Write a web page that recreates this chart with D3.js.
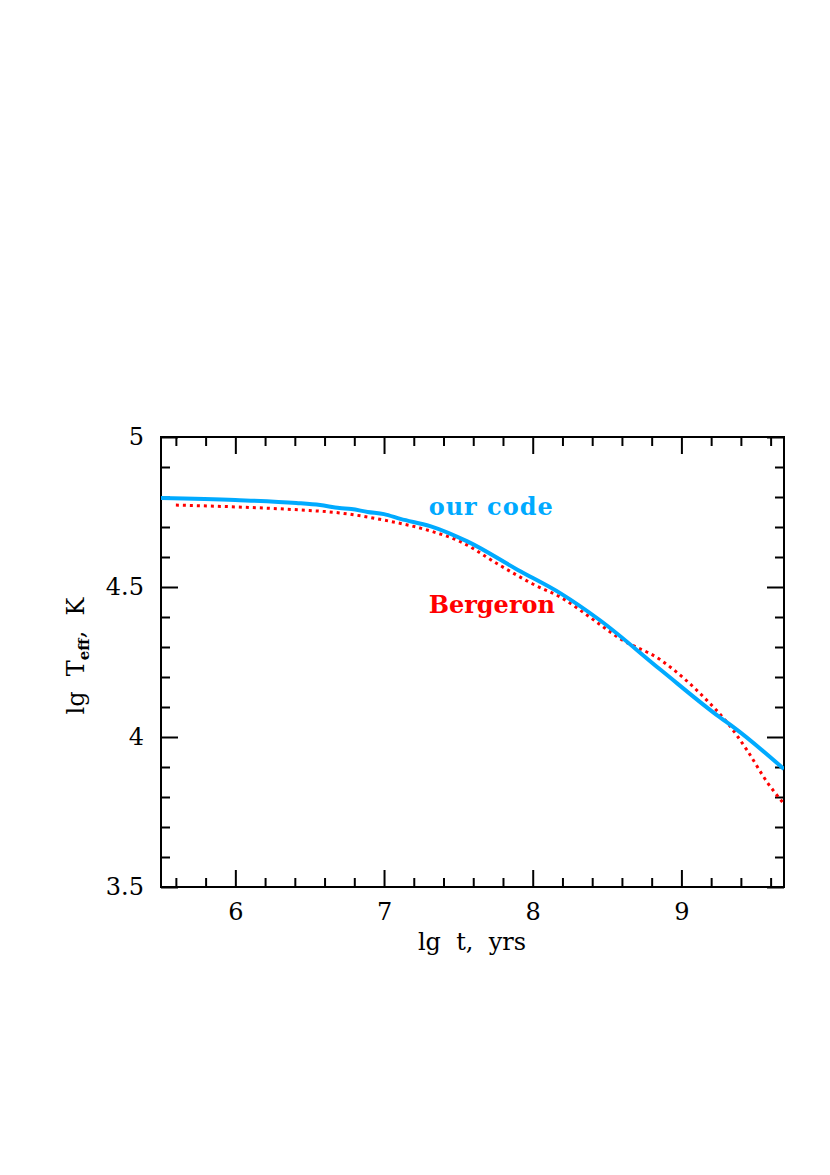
<!DOCTYPE html>
<html>
<head>
<meta charset="utf-8">
<script src="https://cdn.jsdelivr.net/npm/d3@7"></script>
<style>
  body { margin: 0; background: #fff; }
  text { font-family: "DejaVu Serif", "Liberation Serif", serif; }
</style>
</head>
<body>
<div id="chart"></div>
<script>
// lg t (yrs) vs lg Teff (K)
var ourCodeX = [5.5, 6.0, 6.41, 6.57, 6.7, 6.78, 6.89, 7.0, 7.11, 7.31, 7.56, 7.9, 8.19, 8.45, 8.86, 9.26, 9.35, 9.69];
var ourCodeY = [4.797, 4.79, 4.78, 4.773, 4.763, 4.76, 4.75, 4.743, 4.727, 4.703, 4.652, 4.557, 4.478, 4.39, 4.224, 4.065, 4.033, 3.893];
var bergeronX = [5.6, 6.0, 6.43, 6.7, 7.0, 7.31, 7.51, 7.78, 8.0, 8.19, 8.43, 8.57, 8.86, 9.17, 9.31, 9.44, 9.58, 9.68];
var bergeronY = [4.773, 4.767, 4.757, 4.747, 4.723, 4.687, 4.652, 4.572, 4.51, 4.465, 4.383, 4.333, 4.257, 4.123, 4.047, 3.957, 3.847, 3.783];
var xMajor = [6, 7, 8, 9];
var yMajor = [3.5, 4, 4.5, 5];

var width = 830, height = 1175;
var margin = {top: 437, right: 46, bottom: 288, left: 161};
var w = width - margin.left - margin.right;
var h = height - margin.top - margin.bottom;

var svg = d3.select("#chart").append("svg")
    .attr("width", width)
    .attr("height", height);

var g = svg.append("g")
    .attr("transform", "translate(" + margin.left + "," + margin.top + ")");

var x = d3.scaleLinear().domain([5.5, 9.69]).range([0, w]);
var y = d3.scaleLinear().domain([3.5, 5]).range([h, 0]);

// minor ticks
var xMinor = d3.range(5.6, 9.69, 0.2).filter(function(v){ return Math.abs(v - Math.round(v)) > 0.01; });
var yMinor = d3.range(3.6, 5, 0.1).filter(function(v){ return Math.abs(v*2 - Math.round(v*2)) > 0.01; });

var fmt = d3.format("");

function majorAxis(axis, scale, vals, pad, labels) {
    return axis(scale).tickValues(vals).tickSizeInner(-17).tickSizeOuter(0)
        .tickPadding(pad).tickFormat(labels ? fmt : "");
}
function minorAxis(axis, scale, vals) {
    return axis(scale).tickValues(vals).tickSizeInner(-9).tickSizeOuter(0).tickFormat("");
}

// bottom
g.append("g").attr("transform", "translate(0," + h + ")")
    .call(majorAxis(d3.axisBottom, x, xMajor, 16, true));
g.append("g").attr("transform", "translate(0," + h + ")")
    .call(minorAxis(d3.axisBottom, x, xMinor));
// top
g.append("g").call(majorAxis(d3.axisTop, x, xMajor, 0, false));
g.append("g").call(minorAxis(d3.axisTop, x, xMinor));
// left
g.append("g").call(majorAxis(d3.axisLeft, y, yMajor, 17, true));
g.append("g").call(minorAxis(d3.axisLeft, y, yMinor));
// right
g.append("g").attr("transform", "translate(" + w + ",0)")
    .call(majorAxis(d3.axisRight, y, yMajor, 0, false));
g.append("g").attr("transform", "translate(" + w + ",0)")
    .call(minorAxis(d3.axisRight, y, yMinor));

g.selectAll(".domain").remove();
g.selectAll(".tick line").attr("stroke", "#000").attr("stroke-width", 2);
g.selectAll(".tick text").style("font-size", "24px").attr("fill", "#000");

// frame
g.append("rect").attr("x", 0).attr("y", 0).attr("width", w).attr("height", h)
    .attr("fill", "none").attr("stroke", "#000").attr("stroke-width", 2);

var clip = svg.append("clipPath").attr("id", "clip");
clip.append("rect").attr("width", w).attr("height", h);

var line = d3.line()
    .x(function(d){ return x(d[0]); })
    .y(function(d){ return y(d[1]); })
    .curve(d3.curveMonotoneX);

var ourCode = ourCodeX.map(function(v, i){ return [v, ourCodeY[i]]; });
var bergeron = bergeronX.map(function(v, i){ return [v, bergeronY[i]]; });

var lines = g.append("g").attr("clip-path", "url(#clip)");
lines.append("path").datum(bergeron)
    .attr("d", line)
    .attr("fill", "none")
    .attr("stroke", "#ff0000")
    .attr("stroke-width", 3)
    .attr("stroke-dasharray", "3,4");
lines.append("path").datum(ourCode)
    .attr("d", line)
    .attr("fill", "none")
    .attr("stroke", "#00aaff")
    .attr("stroke-width", 4);

// labels in plot
g.append("text").attr("x", x(7.3)).attr("y", y(4.74))
    .text("our code")
    .style("font-size", "24px").style("font-weight", "bold").style("letter-spacing", "1px")
    .attr("fill", "#00aaff");
g.append("text").attr("x", x(7.3)).attr("y", y(4.415))
    .text("Bergeron")
    .style("font-size", "24px").style("font-weight", "bold")
    .attr("fill", "#ff0000");

// axis titles
svg.append("text")
    .attr("x", 472).attr("y", 950)
    .attr("text-anchor", "middle")
    .style("font-size", "24px")
    .style("white-space", "pre")
    .text("lg  t,  yrs");

var yl = svg.append("text")
    .attr("transform", "translate(84," + (margin.top + y(4.27)) + ") rotate(-90)")
    .attr("text-anchor", "middle")
    .style("font-size", "24px")
    .style("white-space", "pre");
yl.append("tspan").text("lg  T");
yl.append("tspan").attr("dy", 5).style("font-size", "15px").style("font-weight", "bold").text("eff");
yl.append("tspan").attr("dy", -5).text(",  K");
</script>
</body>
</html>
